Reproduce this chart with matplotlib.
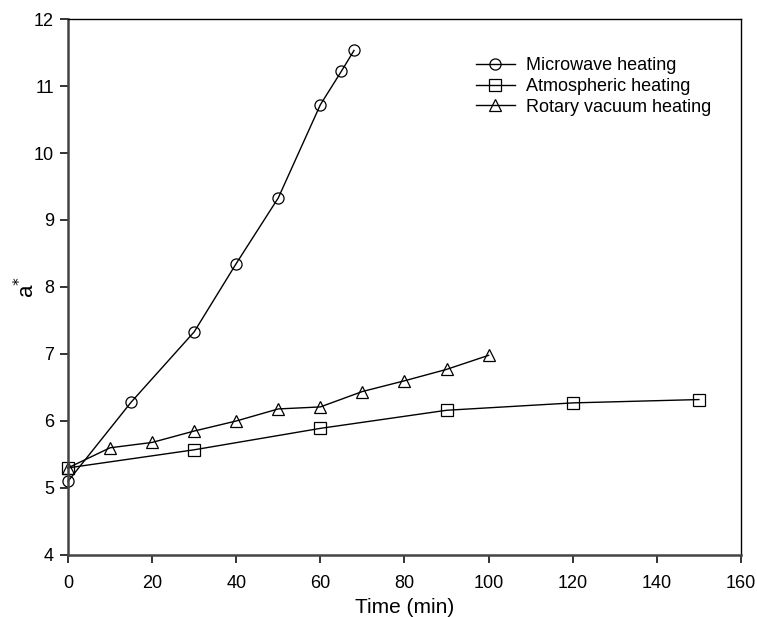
import matplotlib
matplotlib.use('Agg')
import matplotlib.pyplot as plt

plt.rcParams['font.family'] = ['Liberation Sans', 'DejaVu Sans']

# data
mw_t = [0, 15, 30, 40, 50, 60, 65, 68]
mw_a = [5.1, 6.28, 7.33, 8.35, 9.33, 10.72, 11.22, 11.53]

atm_t = [0, 30, 60, 90, 120, 150]
atm_a = [5.3, 5.57, 5.89, 6.16, 6.27, 6.32]

rot_t = [0, 10, 20, 30, 40, 50, 60, 70, 80, 90, 100]
rot_a = [5.3, 5.6, 5.68, 5.85, 6.0, 6.18, 6.21, 6.44, 6.6, 6.77, 6.98]

xticks = list(range(0, 161, 20))
yticks = list(range(4, 13))

fig = plt.figure(figsize=(7.57, 6.17), dpi=100)
ax = fig.add_axes([0.0898, 0.1005, 0.889, 0.8687])

mk = dict(color='black', lw=1.0, markersize=8, markerfacecolor='none',
          markeredgecolor='black', markeredgewidth=0.9, clip_on=False)
ax.plot(mw_t, mw_a, marker='o', label='Microwave heating', **mk)
ax.plot(atm_t, atm_a, marker='s', label='Atmospheric heating', **mk)
ax.plot(rot_t, rot_a, marker='^', label='Rotary vacuum heating', **mk)

ax.set_xlim(0, 160)
ax.set_ylim(4, 12)
ax.set_xticks(xticks)
ax.set_yticks(yticks)
ax.tick_params(direction='out', length=5.5, width=1.4, labelsize=13, color='#333333')
ax.tick_params(axis='x', pad=9)
ax.tick_params(axis='y', pad=4.5)
for s in ['left', 'bottom']:
    ax.spines[s].set_linewidth(1.8)
    ax.spines[s].set_color('#444444')
for s in ['top', 'right']:
    ax.spines[s].set_linewidth(1.0)

ax.set_xlabel('Time (min)', fontsize=15, labelpad=4)
ax.set_ylabel(r'a$^{*}$', fontsize=16, labelpad=-4)

ax.legend(loc='upper left', bbox_to_anchor=(0.595, 0.942), frameon=False,
          fontsize=13, handlelength=2.2, handletextpad=0.6, labelspacing=0.2,
          borderaxespad=0)

fig.savefig('out.png', dpi=100)
